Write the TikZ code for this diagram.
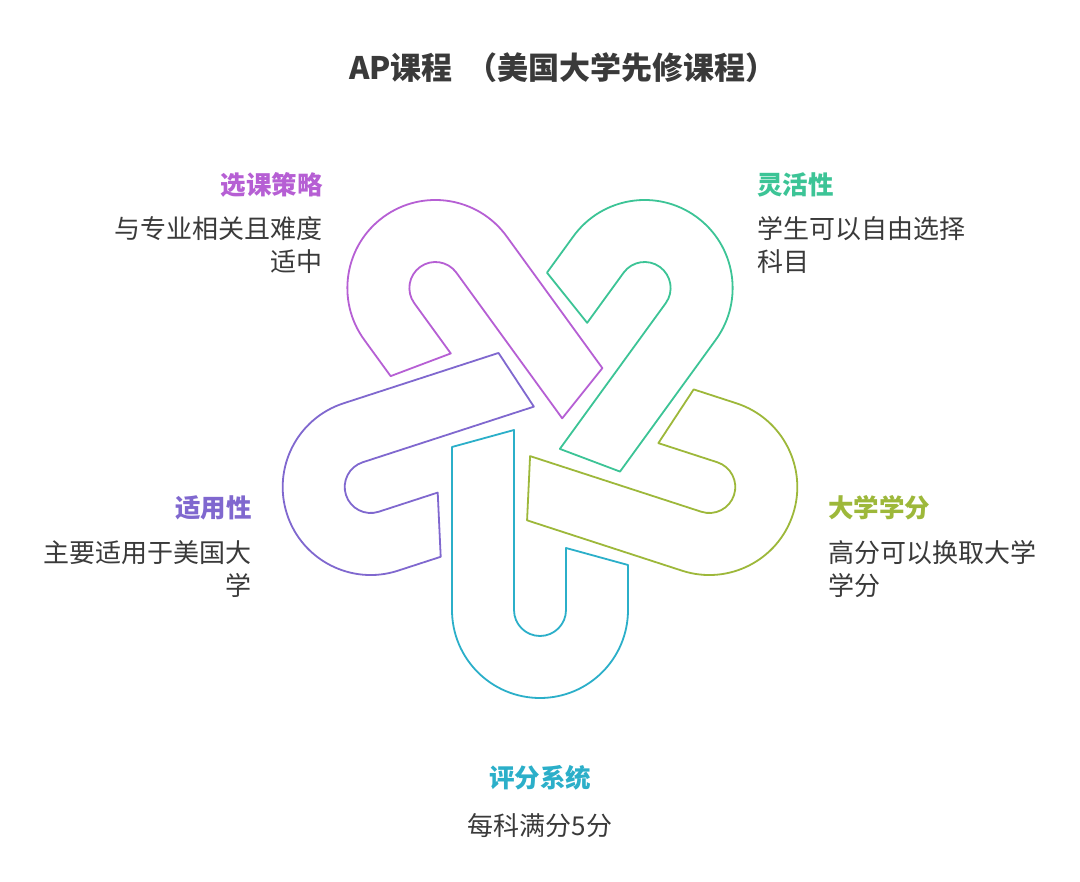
\documentclass[tikz,border=0pt]{standalone}
\usepackage{fontspec}
\setmainfont{Noto Sans CJK SC}
\begin{document}
\begin{tikzpicture}[x=1pt,y=1pt]
\definecolor{cpur}{HTML}{B65FD4}
\definecolor{cgrn}{HTML}{3CC496}
\definecolor{cylw}{HTML}{9DB83A}
\definecolor{ccyn}{HTML}{2BAFC9}
\definecolor{cvio}{HTML}{8068CF}
\definecolor{txt}{HTML}{3A3A3A}
\tikzset{
  hook/.style={draw=#1,fill=white,line width=1.8pt,line join=round},
  head/.style={font=\fontsize{25.5}{28}\selectfont\bfseries,text=#1,inner sep=0pt},
  body/.style={font=\fontsize{26}{33}\selectfont,text=txt,inner sep=0pt,align=#1},
}
\useasboundingbox (0,0) rectangle (1080,-882);
\fill[white] (0,0) rectangle (1080,-882);
\node[font=\fontsize{31}{34}\selectfont\bfseries,text=txt] (title) at (563,-68) {AP课程\ \ （美国大学先修课程）};
\foreach \k/\c in {0/ccyn,1/cylw,2/cgrn,3/cpur,4/cvio}{
  \begin{scope}[shift={(540,-432)},rotate=72*\k]
    \begin{scope}[shift={(0,-178)}]
      \draw[hook=\c] (-88,163) -- (-88,0) arc[start angle=180,end angle=360,radius=88]
        -- (88,45) -- (26,62) -- (26,0) arc[start angle=0,end angle=-180,radius=26]
        -- (-26,180) -- cycle;
    \end{scope}
  \end{scope}
}
\node[head=cpur,anchor=east] (h1) at (323,-185) {选课策略};
\node[body=right,anchor=north east] (b1) at (323,-216) {与专业相关且难度\\适中};
\node[head=cgrn,anchor=west] (h2) at (757,-185) {灵活性};
\node[body=left,anchor=north west] (b2) at (757,-216) {学生可以自由选择\\科目};
\node[head=cvio,anchor=east] (h3) at (252,-508) {适用性};
\node[body=right,anchor=north east] (b3) at (252,-540) {主要适用于美国大\\学};
\node[head=cylw,anchor=west] (h4) at (828,-508) {大学学分};
\node[body=left,anchor=north west] (b4) at (828,-540) {高分可以换取大学\\学分};
\node[head=ccyn] (h5) at (540,-778) {评分系统};
\node[body=center] (b5) at (540,-826) {每科满分5分};
\end{tikzpicture}
\end{document}
